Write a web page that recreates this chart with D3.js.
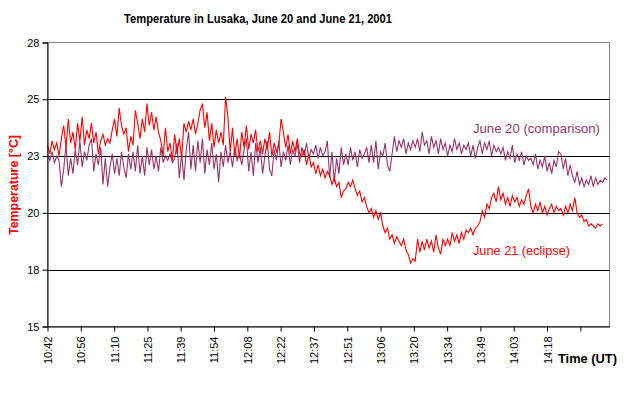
<!DOCTYPE html>
<html>
<head>
<meta charset="utf-8">
<script src="https://cdn.jsdelivr.net/npm/d3@7"></script>
<style>
  html, body { margin: 0; padding: 0; background: #fff; }
  svg { display: block; font-family: "Liberation Sans", Arial, sans-serif; }
</style>
</head>
<body>
<svg id="chart" width="624" height="401"></svg>
<script>
// ---- data (one reading per minute starting 10:42 UT) ----
const startTime = "10:42";
const tickLabels = ["10:42","10:56","11:10","11:25","11:39","11:54","12:08","12:22","12:37",
                    "12:51","13:06","13:20","13:34","13:49","14:03","14:18",""];
const yTickValues = [15, 17.6, 20.2, 22.8, 25.4, 28];
const yTickLabels = ["15","18","20","23","25","28"];

const june21 = [
  23.3,22.9,23.5,23.1,23.4,22.8, 23.6,24.2,23.2,24.5,23.4,23.9,23.1,
  24.3,23.5,24.6,23.3,24.0,23.6, 24.3,23.4,23.9,22.9,23.5, 23.8,23.3,23.6,23.4,
  24.0,24.5,23.7,25.0,24.2,23.8, 24.1,23.0,23.7,23.3, 24.9,24.3,
  23.6,24.5,23.9,25.2,24.2, 24.8,24.0,24.6,23.9, 23.5,22.8,24.1,23.0,23.4,
  22.6,23.8,22.9,23.6,22.7, 24.3,23.9,24.4, 24.0,24.5,23.8,24.3,24.9,
  25.2,24.1,24.8, 23.5,24.3,23.2,24.0,23.4,23.9,23.3, 25.5,24.6,
  23.0,24.1,22.8,23.6,22.7,23.9,23.2, 24.2,23.1,23.8,23.4,24.0,23.0,
  23.5,22.9,23.6,23.1,23.9,22.8,23.4,23.0,23.3, 24.5,23.9,
  23.2,23.8,22.9,23.5,23.0,23.6,22.9, 22.8,23.1,22.4,22.9,22.3,
  22.5,22.0,22.4,21.9,22.2,21.8,22.1, 21.9,21.5,21.8,21.4,21.6, 20.9,21.2,
  21.3,21.6,21.4,21.7, 21.3,21.0,21.2,20.7,20.9, 20.5,20.2,20.4,20.0,20.3,19.9,
  20.2,19.6, 19.3,19.5,19.0,19.2,18.8,19.1,18.9, 18.7,19.0,18.5,18.3,17.9,18.1,18.0,
  19.0,18.4,18.9,18.5,19.0,18.6, 18.9,18.4,19.2,18.6,18.3,19.0,18.7,
  19.0,18.7,19.3,18.9,19.2,18.8,19.3,19.0,19.4, 19.3,19.5,19.2,19.5,19.6,
  19.8,20.3,20.0,20.6,20.4, 20.9,21.1,20.7,21.4,
  20.8,21.1,20.6,20.9,20.5,21.0,20.7,20.9,20.5,20.8,20.6,21.0,21.3,
  20.5,20.2,20.6,20.3,20.7,20.2,20.5,20.1,20.4,20.6,20.2,20.5,20.3,
  20.4,20.1,20.5,20.2,20.6,20.3,20.9,20.2,20.0, 20.1,19.8,19.9,19.6,19.7,
  19.6,19.5,19.7,19.6,19.7
];

const june20 = [
  22.9,22.6,23.0,22.5,22.8,22.6, 21.4,22.2,23.3,21.9,22.7,22.0,23.1,
  22.4,23.5,22.3,23.0,22.6,23.3, 23.6,22.1,22.9,22.4,23.2, 21.5,22.7,21.4,22.3,
  22.9,22.0,22.7,21.9,23.0,22.3, 21.8,22.9,22.2,23.0,
  22.1,23.3,22.0,22.8,21.9,23.2,22.4, 23.1,22.2,22.8,22.1,23.2,22.5,
  22.8,22.6,22.9,22.5,22.7, 23.4,21.8,22.9,21.7,23.1, 23.9,22.2,23.3,22.1,23.5,
  22.5,23.6,22.0,23.1,22.4,23.4,22.2,22.9,21.6,23.0,22.3,
  23.3,22.5,23.0,22.3,23.2,22.6,22.9,22.4,23.1,
  23.6,22.1,23.0,21.9,23.4,22.5,23.2,22.0,22.8,23.5,22.2,21.9,23.1,
  22.6,23.5,22.3,23.0,22.6,23.3,22.4,23.1,22.8,23.4,22.5,
  23.2,22.8,23.4,22.7,23.1,22.9,23.3,22.7,23.2,22.8,23.0,
  23.5,21.8,23.0,21.6,22.7,22.0,23.2,22.4,
  22.9,22.4,23.2,22.6,23.0,22.3,23.1,22.7,22.9,23.2,22.5,
  23.3,22.5,23.5,22.2,23.0,22.8,23.4,22.4,22.1,22.9,
  23.7,23.0,23.5,23.2,23.6,22.9,23.4,23.1,23.5,
  23.2,23.6,23.0,23.9,23.3,23.5, 22.9,23.7,23.2,23.5,22.9,23.6,23.1,
  23.4,22.8,23.3,23.0,23.6,23.1,23.4,22.9,23.3,23.1,
  23.4,22.8,23.3,22.7,23.2, 23.5,22.9,23.4,23.1,23.5,22.8,23.3,23.0,23.2,
  22.9,23.2,22.6,23.0,22.7,23.3,22.5,22.9,22.6,23.0,22.4,22.8,22.6,
  22.7,22.4,22.9,22.2,22.6,22.3,22.8,22.1,22.5,22.0,22.6,22.3,23.0,
  22.9,22.2,22.7,21.9,22.4, 21.9,21.6,22.1,21.5,21.8,21.4,21.7,
  21.5,21.9,21.4,21.8,21.5,21.7,21.6,21.8,21.7
];

const series = [
  { name: "June 20 (comparison)", values: june20, color: "#993366" },
  { name: "June 21 (eclipse)",    values: june21, color: "#FF0000" }
];

// ---- layout ----
const svg = d3.select("#chart");
const mLeft = 47.5, mRight = 609.5, mTop = 42.5, mBottom = 326.5;
const minutesPerTick = 14.4;

const x = d3.scaleLinear().domain([0, 243]).range([mLeft, mRight]);
const y = d3.scaleLinear().domain([15, 28]).range([mBottom, mTop]);

svg.append("rect").attr("width", 624).attr("height", 401).attr("fill", "#fff");

// plot border (grey)
svg.append("rect")
  .attr("x", mLeft).attr("y", mTop)
  .attr("width", mRight - mLeft).attr("height", mBottom - mTop)
  .attr("fill", "none").attr("stroke", "#808080").attr("stroke-width", 1);

// gridlines
svg.append("g").selectAll("line")
  .data(yTickValues.filter(v => v > 15 && v < 28))
  .join("line")
  .attr("x1", mLeft).attr("x2", mRight)
  .attr("y1", d => Math.round(y(d)) + 0.5).attr("y2", d => Math.round(y(d)) + 0.5)
  .attr("stroke", "#000").attr("stroke-width", 1);

// series lines
const line = d3.line().x((d, i) => x(i)).y(d => y(d));
svg.append("g").selectAll("path")
  .data(series)
  .join("path")
  .attr("d", d => line(d.values))
  .attr("fill", "none")
  .attr("stroke", d => d.color)
  .attr("stroke-width", 1.1)
  .attr("stroke-linejoin", "miter");

// y axis
const yAxis = d3.axisLeft(y)
  .tickValues(yTickValues)
  .tickFormat((d, i) => yTickLabels[i])
  .tickSize(5).tickPadding(3);
const gy = svg.append("g").attr("transform", `translate(${mLeft},0)`).call(yAxis);
gy.select(".domain").attr("stroke", "#000");
gy.selectAll(".tick line").attr("stroke", "#000");
gy.selectAll("text").attr("font-size", "11px").attr("fill", "#000")
  .attr("font-family", "Liberation Sans, Arial, sans-serif");

// x axis
const xTickValues = tickLabels.map((d, i) => i * minutesPerTick);
const xAxis = d3.axisBottom(x)
  .tickValues(xTickValues)
  .tickFormat((d, i) => tickLabels[i])
  .tickSize(5).tickSizeOuter(0);
const gx = svg.append("g").attr("transform", `translate(0,${mBottom})`).call(xAxis);
gx.select(".domain").attr("stroke", "#000");
gx.selectAll(".tick line").attr("stroke", "#000");
gx.selectAll("text")
  .attr("font-size", "11px").attr("fill", "#000")
  .attr("font-family", "Liberation Sans, Arial, sans-serif")
  .attr("transform", "rotate(-90)")
  .attr("x", -10).attr("y", 0).attr("dy", "0.36em")
  .style("text-anchor", "end");

// title
svg.append("text")
  .attr("x", 258).attr("y", 23)
  .attr("text-anchor", "middle")
  .attr("font-size", "12.5px").attr("font-weight", "bold")
  .attr("textLength", 268).attr("lengthAdjust", "spacingAndGlyphs")
  .text("Temperature in Lusaka, June 20 and June 21, 2001");

// y axis title
svg.append("text")
  .attr("transform", "translate(18,185) rotate(-90)")
  .attr("text-anchor", "middle")
  .attr("font-size", "13px").attr("font-weight", "bold")
  .attr("fill", "#FF0000")
  .attr("textLength", 100).attr("lengthAdjust", "spacingAndGlyphs")
  .text("Temperature [°C]");

// x axis title
svg.append("text")
  .attr("x", 558).attr("y", 363)
  .attr("font-size", "12.5px").attr("font-weight", "bold")
  .attr("textLength", 59).attr("lengthAdjust", "spacingAndGlyphs")
  .text("Time (UT)");

// series labels
svg.append("text")
  .attr("x", 473).attr("y", 133)
  .attr("font-size", "13px").attr("fill", "#993366")
  .attr("textLength", 127).attr("lengthAdjust", "spacingAndGlyphs")
  .text(series[0].name);
svg.append("text")
  .attr("x", 473).attr("y", 255)
  .attr("font-size", "13px").attr("fill", "#FF0000")
  .attr("textLength", 97).attr("lengthAdjust", "spacingAndGlyphs")
  .text(series[1].name);
</script>
</body>
</html>
